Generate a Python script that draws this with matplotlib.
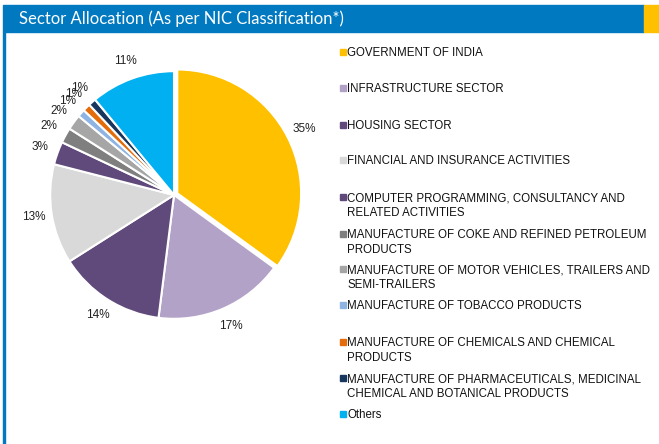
import matplotlib.pyplot as plt
from matplotlib.patches import Rectangle

# Sector allocation data
sectors = [
    "GOVERNMENT OF INDIA",
    "INFRASTRUCTURE SECTOR",
    "HOUSING SECTOR",
    "FINANCIAL AND INSURANCE ACTIVITIES",
    "COMPUTER PROGRAMMING, CONSULTANCY AND\nRELATED ACTIVITIES",
    "MANUFACTURE OF COKE AND REFINED PETROLEUM\nPRODUCTS",
    "MANUFACTURE OF MOTOR VEHICLES, TRAILERS AND\nSEMI-TRAILERS",
    "MANUFACTURE OF TOBACCO PRODUCTS",
    "MANUFACTURE OF CHEMICALS AND CHEMICAL\nPRODUCTS",
    "MANUFACTURE OF PHARMACEUTICALS, MEDICINAL\nCHEMICAL AND BOTANICAL PRODUCTS",
    "Others",
]
shares = [35, 17, 14, 13, 3, 2, 2, 1, 1, 1, 11]
colors = ["#FFC000", "#B3A2C7", "#604A7B", "#D9D9D9", "#604A7B", "#7F7F7F",
          "#A6A6A6", "#8EB4E3", "#E46C0A", "#17375E", "#00B0F0"]

W, H = 659, 444
fig = plt.figure(figsize=(W / 100, H / 100), dpi=100)
fig.patch.set_facecolor("white")

# header bar
fig.patches.append(Rectangle((3 / W, 1 - 32 / H), 641 / W, 27 / H,
                             transform=fig.transFigure, color="#0079C1", zorder=0))
fig.patches.append(Rectangle((644 / W, 1 - 32 / H), 15 / W, 27 / H,
                             transform=fig.transFigure, color="#FFC000", zorder=0))
fig.patches.append(Rectangle((3 / W, 0), 2 / W, 1 - 32 / H,
                             transform=fig.transFigure, color="#0079C1", zorder=0))
fig.text(19 / W, 1 - 19 / H, "Sector Allocation (As per NIC Classification*)",
         color="white", fontsize=12, family="Lato", va="center", ha="left")

# pie
cx, cy, r = 174, 195, 130
ax = fig.add_axes([(cx - r) / W, 1 - (cy + r) / H, 2 * r / W, 2 * r / H])
explode = [0.03] + [0] * (len(shares) - 1)
ax.pie(shares, colors=colors, startangle=90, counterclock=False, explode=explode,
       autopct="%d%%", pctdistance=1.15,
       wedgeprops=dict(edgecolor="white", linewidth=1.5),
       textprops=dict(fontsize=8.5, family="Liberation Sans", color="#222222"))
ax.set_xlim(-1.05, 1.05)
ax.set_ylim(-1.05, 1.05)
ax.set_aspect("equal")
ax.axis("off")

# legend entries
legend_y = [52, 88, 125, 160, 197, 234, 269, 305, 342, 378, 414]
for name, col, y in zip(sectors, colors, legend_y):
    fig.patches.append(Rectangle((340 / W, 1 - (y + 3) / H), 6 / W, 6 / H,
                                 transform=fig.transFigure, color=col))
    fig.text(347 / W, 1 - (y - 5) / H, name, fontsize=8.3, family="Liberation Sans",
             va="top", ha="left", color="#111111", linespacing=1.3,
             transform=fig.transFigure)

fig.savefig("out.png", dpi=100)
